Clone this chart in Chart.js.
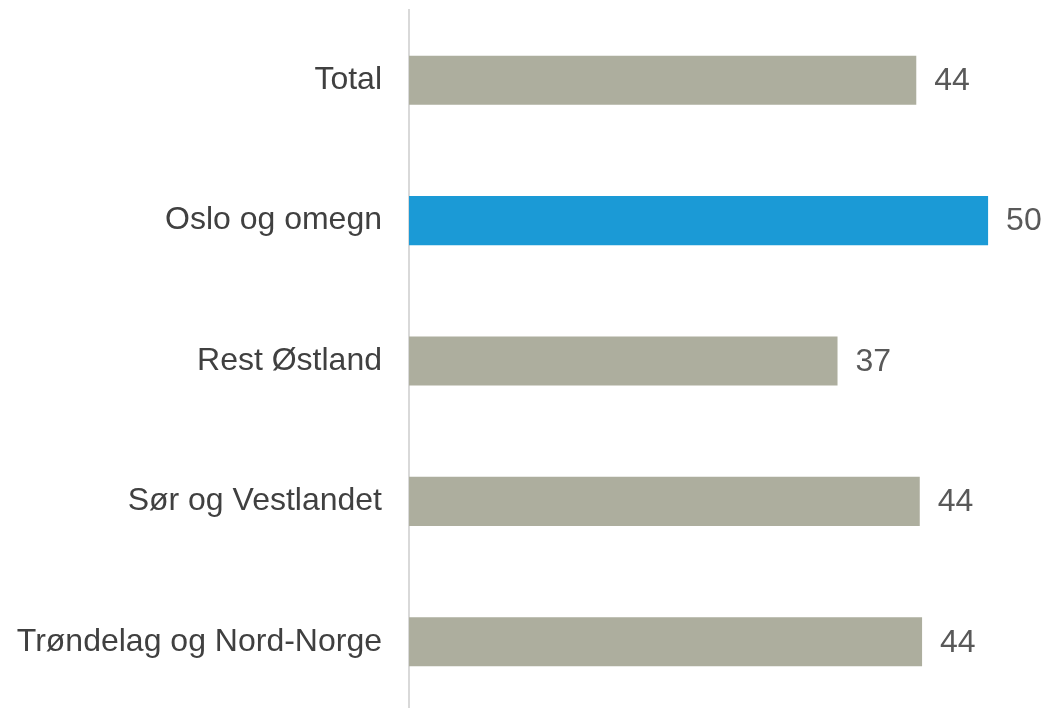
<!DOCTYPE html>
<html>
<head>
<meta charset="utf-8">
<script src="https://cdn.jsdelivr.net/npm/chart.js@4"></script>
<style>
  html, body { margin: 0; padding: 0; background: #fff; overflow: hidden; }
</style>
</head>
<body>
<canvas id="regionChart" width="1046" height="712"></canvas>
<script>
// Regions and values
const regions = ["Total", "Oslo og omegn", "Rest Østland", "Sør og Vestlandet", "Trøndelag og Nord-Norge"];
const shares = [43.8, 50, 37, 44.1, 44.3];
const barColors = ["#adae9e", "#1b9ad6", "#adae9e", "#adae9e", "#adae9e"];

// Draws the rounded value to the right of each bar
const valueLabels = {
  id: 'valueLabels',
  afterDatasetsDraw(chart) {
    const ctx = chart.ctx;
    const meta = chart.getDatasetMeta(0);
    ctx.save();
    ctx.font = '32px "Liberation Sans", Arial, sans-serif';
    ctx.fillStyle = '#595959';
    ctx.textAlign = 'left';
    ctx.textBaseline = 'middle';
    meta.data.forEach((bar, i) => {
      ctx.fillText(Math.round(shares[i]), bar.x + 18, bar.y + 1);
    });
    ctx.restore();
  }
};

const ctx = document.getElementById('regionChart').getContext('2d');
const regionChart = new Chart(ctx, {
  type: 'bar',
  data: {
    labels: regions,
    datasets: [{
      data: shares,
      backgroundColor: barColors,
      borderWidth: 0,
      barPercentage: 0.35,
      categoryPercentage: 1
    }]
  },
  options: {
    indexAxis: 'y',
    responsive: false,
    animation: false,
    layout: { padding: { top: 10, right: 0, bottom: 0, left: 0 } },
    plugins: {
      legend: { display: false },
      tooltip: { enabled: false }
    },
    scales: {
      x: {
        display: false,
        min: 0,
        max: 55
      },
      y: {
        grid: { display: true, drawOnChartArea: false, drawTicks: false },
        border: { display: true, color: '#d9d9d9', width: 2 },
        ticks: {
          color: '#404040',
          padding: 27,
          font: { family: '"Liberation Sans", Arial, sans-serif', size: 32 }
        },
        afterFit(scale) {
          scale.width = 409;
          scale.paddingTop = 0;
          scale.paddingBottom = 0;
        }
      }
    }
  },
  plugins: [valueLabels]
});
</script>
</body>
</html>
